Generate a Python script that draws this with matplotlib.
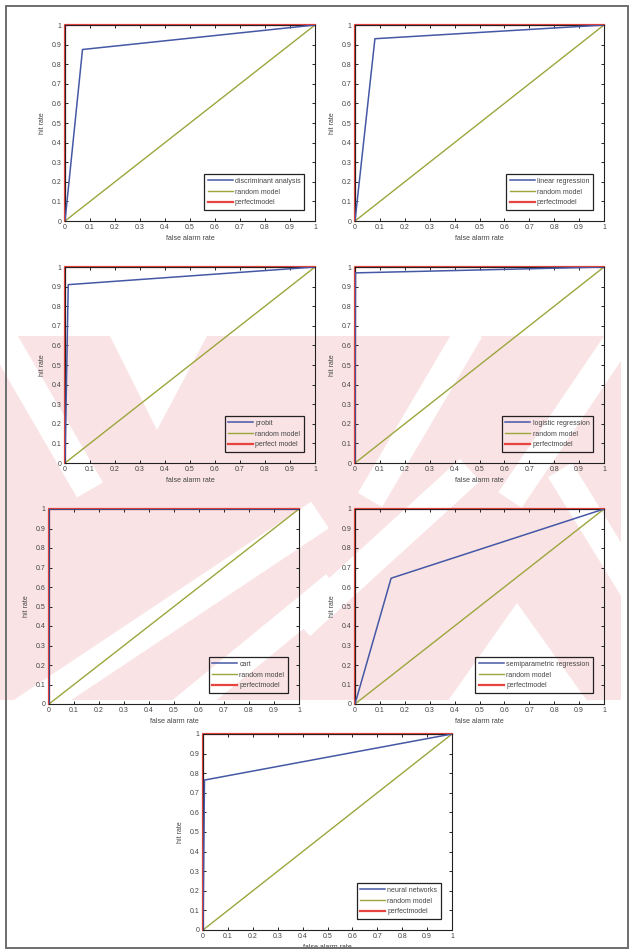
import matplotlib
matplotlib.use("Agg")
import matplotlib.pyplot as plt
from matplotlib.patches import Rectangle, Polygon
import numpy as np

plt.rcParams['font.family'] = ['Liberation Sans', 'DejaVu Sans']

# ROC curves: (false alarm rate, hit rate) for each classifier
models = ["discriminant analysis", "linear regression", "probit",
          "logistic regression", "cart", "semiparametric regression",
          "neural networks"]
fa_discriminant = [0, 0.07, 1]
hr_discriminant = [0, 0.875, 1]
fa_linear = [0, 0.08, 1]
hr_linear = [0, 0.93, 1]
fa_probit = [0, 0.013, 1]
hr_probit = [0, 0.91, 1]
fa_logistic = [0, 0.002, 1]
hr_logistic = [0, 0.97, 1]
fa_cart = [0, 0, 1]
hr_cart = [0, 1, 1]
fa_semipar = [0, 0.145, 1]
hr_semipar = [0, 0.645, 1]
fa_neural = [0, 0.006, 1]
hr_neural = [0, 0.765, 1]

fa_random = [0, 1]
hr_random = [0, 1]
fa_perfect = [0, 0, 1]
hr_perfect = [0, 1, 1]

perfect_labels = ["perfectmodel", "perfectmodel", "perfect model", "perfectmodel",
                  "perfectmodel", "perfectmodel", "perfectmodel"]
ticks = [0, 0.1, 0.2, 0.3, 0.4, 0.5, 0.6, 0.7, 0.8, 0.9, 1]
tick_labels = ["0", "0.1", "0.2", "0.3", "0.4", "0.5", "0.6", "0.7", "0.8", "0.9", "1"]

curves = [(fa_discriminant, hr_discriminant), (fa_linear, hr_linear),
          (fa_probit, hr_probit), (fa_logistic, hr_logistic),
          (fa_cart, hr_cart), (fa_semipar, hr_semipar), (fa_neural, hr_neural)]

W, H = 630, 951
fig = plt.figure(figsize=(W / 100, H / 100), dpi=100)
fig.patch.set_facecolor("white")

def px(x, y):
    return (x / W, 1 - y / H)

# background watermark band with diagonal stripes
band_x0, band_y0, band_x1, band_y1 = 0, 336, 621, 700
band = Rectangle(px(band_x0, band_y1), (band_x1 - band_x0) / W, (band_y1 - band_y0) / H,
                 transform=fig.transFigure, facecolor="#f9e3e5", edgecolor="none", zorder=-5)
fig.add_artist(band)

def stripe(p0, p1, w):
    p0 = np.array(p0, float); p1 = np.array(p1, float)
    d = p1 - p0; d /= np.hypot(*d)
    n = np.array([-d[1], d[0]]) * w / 2
    pts = [p0 + n, p1 + n, p1 - n, p0 - n]
    return [px(*p) for p in pts]

white_shapes = [
    stripe((0, 335), (90, 490), 30),
    [px(110, 336), px(207, 336), px(157, 430)],
    stripe((20, 715), (320, 515), 32),
    stripe((180, 712), (335, 585), 28),
    stripe((370, 500), (470, 330), 28),
    stripe((510, 500), (625, 330), 28),
    stripe((300, 625), (470, 470), 30),
    [px(517, 603), px(445, 705), px(590, 705)],
    stripe((560, 470), (640, 600), 28),
]
for shp in white_shapes:
    poly = Polygon(shp, closed=True, transform=fig.transFigure,
                   facecolor="white", edgecolor="none", zorder=-4)
    fig.add_artist(poly)
    poly.set_clip_path(band)

# outer page frame
frame = Rectangle(px(6, 948), (628 - 6) / W, (948 - 6) / H, transform=fig.transFigure,
                  facecolor="none", edgecolor="#6e6e6e", linewidth=1.4, zorder=10)
fig.add_artist(frame)

# axes boxes in pixels: x0, y0, x1, y1
boxes = [(65, 25, 315, 221), (355, 25, 604, 221),
         (65, 267, 315, 463), (355, 267, 604, 463),
         (49, 509, 299, 704), (355, 509, 604, 704),
         (203, 734, 452, 930)]

c_blue = "#4558a6"
c_green = "#9ca63c"
c_red = "#e8433e"
fs = 5

for i, (x0, y0, x1, y1) in enumerate(boxes):
    ax = fig.add_axes([x0 / W, 1 - y1 / H, (x1 - x0) / W, (y1 - y0) / H])
    ax.set_facecolor("none")
    fa, hr = curves[i]
    ax.plot(fa, hr, color=c_blue, lw=1.1, label=models[i], zorder=3)
    ax.plot(fa_random, hr_random, color=c_green, lw=1.0, label="random model", zorder=2)
    ax.plot(fa_perfect, hr_perfect, color=c_red, lw=1.6, label=perfect_labels[i], zorder=2.5,
            clip_on=False)
    ax.set_xlim(0, 1)
    ax.set_ylim(0, 1)
    ax.set_xticks(ticks)
    ax.set_yticks(ticks)
    ax.set_xticklabels(tick_labels)
    ax.set_yticklabels(tick_labels)
    ax.tick_params(direction="in", length=2.5, width=0.7, labelsize=fs,
                   top=True, right=True, pad=2.5, colors="#222222", labelcolor="#444444")
    for s in ax.spines.values():
        s.set_linewidth(0.8)
        s.set_color("#222222")
    ax.set_xlabel("false alarm rate", fontsize=fs, color="#444444", labelpad=2.5)
    ax.set_ylabel("hit rate", fontsize=fs, color="#444444", labelpad=4)
    leg = ax.legend(loc="lower right", fontsize=fs, frameon=True, fancybox=False,
                    edgecolor="#222222", facecolor="none", framealpha=1,
                    handlelength=3.6, handletextpad=0.3, borderpad=0.5,
                    labelspacing=0.55, borderaxespad=1.6)
    leg.get_frame().set_linewidth(0.9)
    for t in leg.get_texts():
        t.set_color("#444444")

fig.savefig("out.png", dpi=100)
